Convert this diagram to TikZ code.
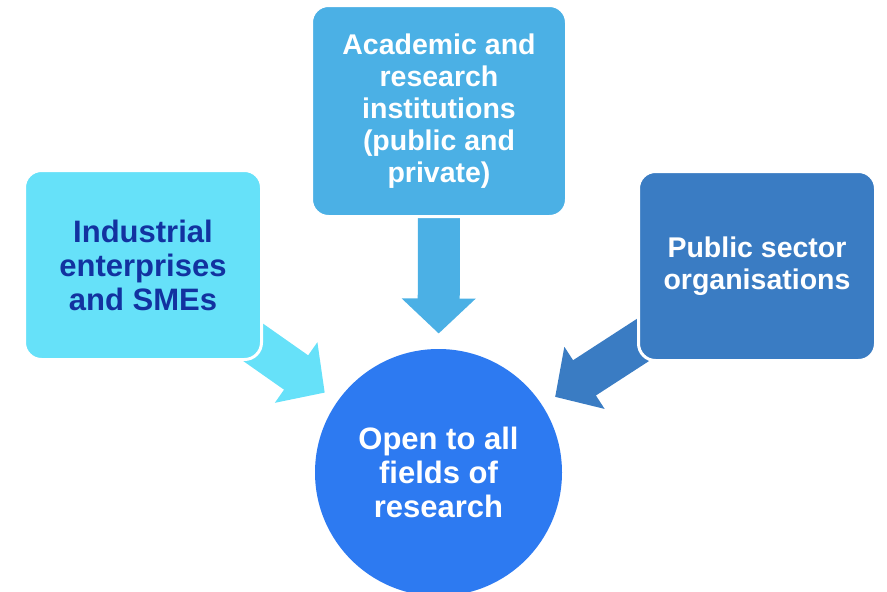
\documentclass[tikz,border=0pt]{standalone}
\usepackage{fontspec}
\setmainfont{Liberation Sans}
\usetikzlibrary{arrows.meta,backgrounds}
\definecolor{industry}{HTML}{66E1F9}
\definecolor{academia}{HTML}{4BB0E5}
\definecolor{publicsec}{HTML}{3A7CC3}
\definecolor{openfield}{HTML}{2D7AF1}
\definecolor{navytext}{HTML}{1232A0}
\tikzset{
	group/.style={rounded corners=17pt, draw=white, line width=3pt, align=center, inner sep=0pt},
	feed/.style={line width=42pt, -{Triangle[length=35pt, width=72pt]}, shorten >=139pt}
}
\begin{document}
\begin{tikzpicture}[x=1pt, y=-1pt]
	\useasboundingbox (0,0) rectangle (887,592);
	\node[group, fill=industry, text=navytext, minimum width=237pt, minimum height=189pt, font=\fontsize{31}{34}\selectfont\bfseries] (ind) at (143,265) {Industrial\\enterprises\\and SMEs};
	\node[group, fill=academia, text=white, minimum width=255pt, minimum height=211pt, font=\fontsize{28.5}{32}\selectfont\bfseries] (acad) at (439,111) {Academic and\\research\\institutions\\(public and\\private)};
	\node[group, fill=publicsec, text=white, minimum width=237pt, minimum height=189pt, font=\fontsize{28.5}{32}\selectfont\bfseries] (pub) at (757,266) {Public sector\\organisations};
	\node[circle, fill=openfield, text=white, minimum size=247pt, inner sep=0pt, align=center, font=\fontsize{31}{34}\selectfont\bfseries] (open) at (438.5,472.5) {Open to all\\fields of\\research};
	\begin{scope}[on background layer]
		\foreach \src/\col in {ind/industry, acad/academia, pub/publicsec}
			\draw[feed, draw=\col] (\src.center) -- (open.center);
	\end{scope}
\end{tikzpicture}
\end{document}
